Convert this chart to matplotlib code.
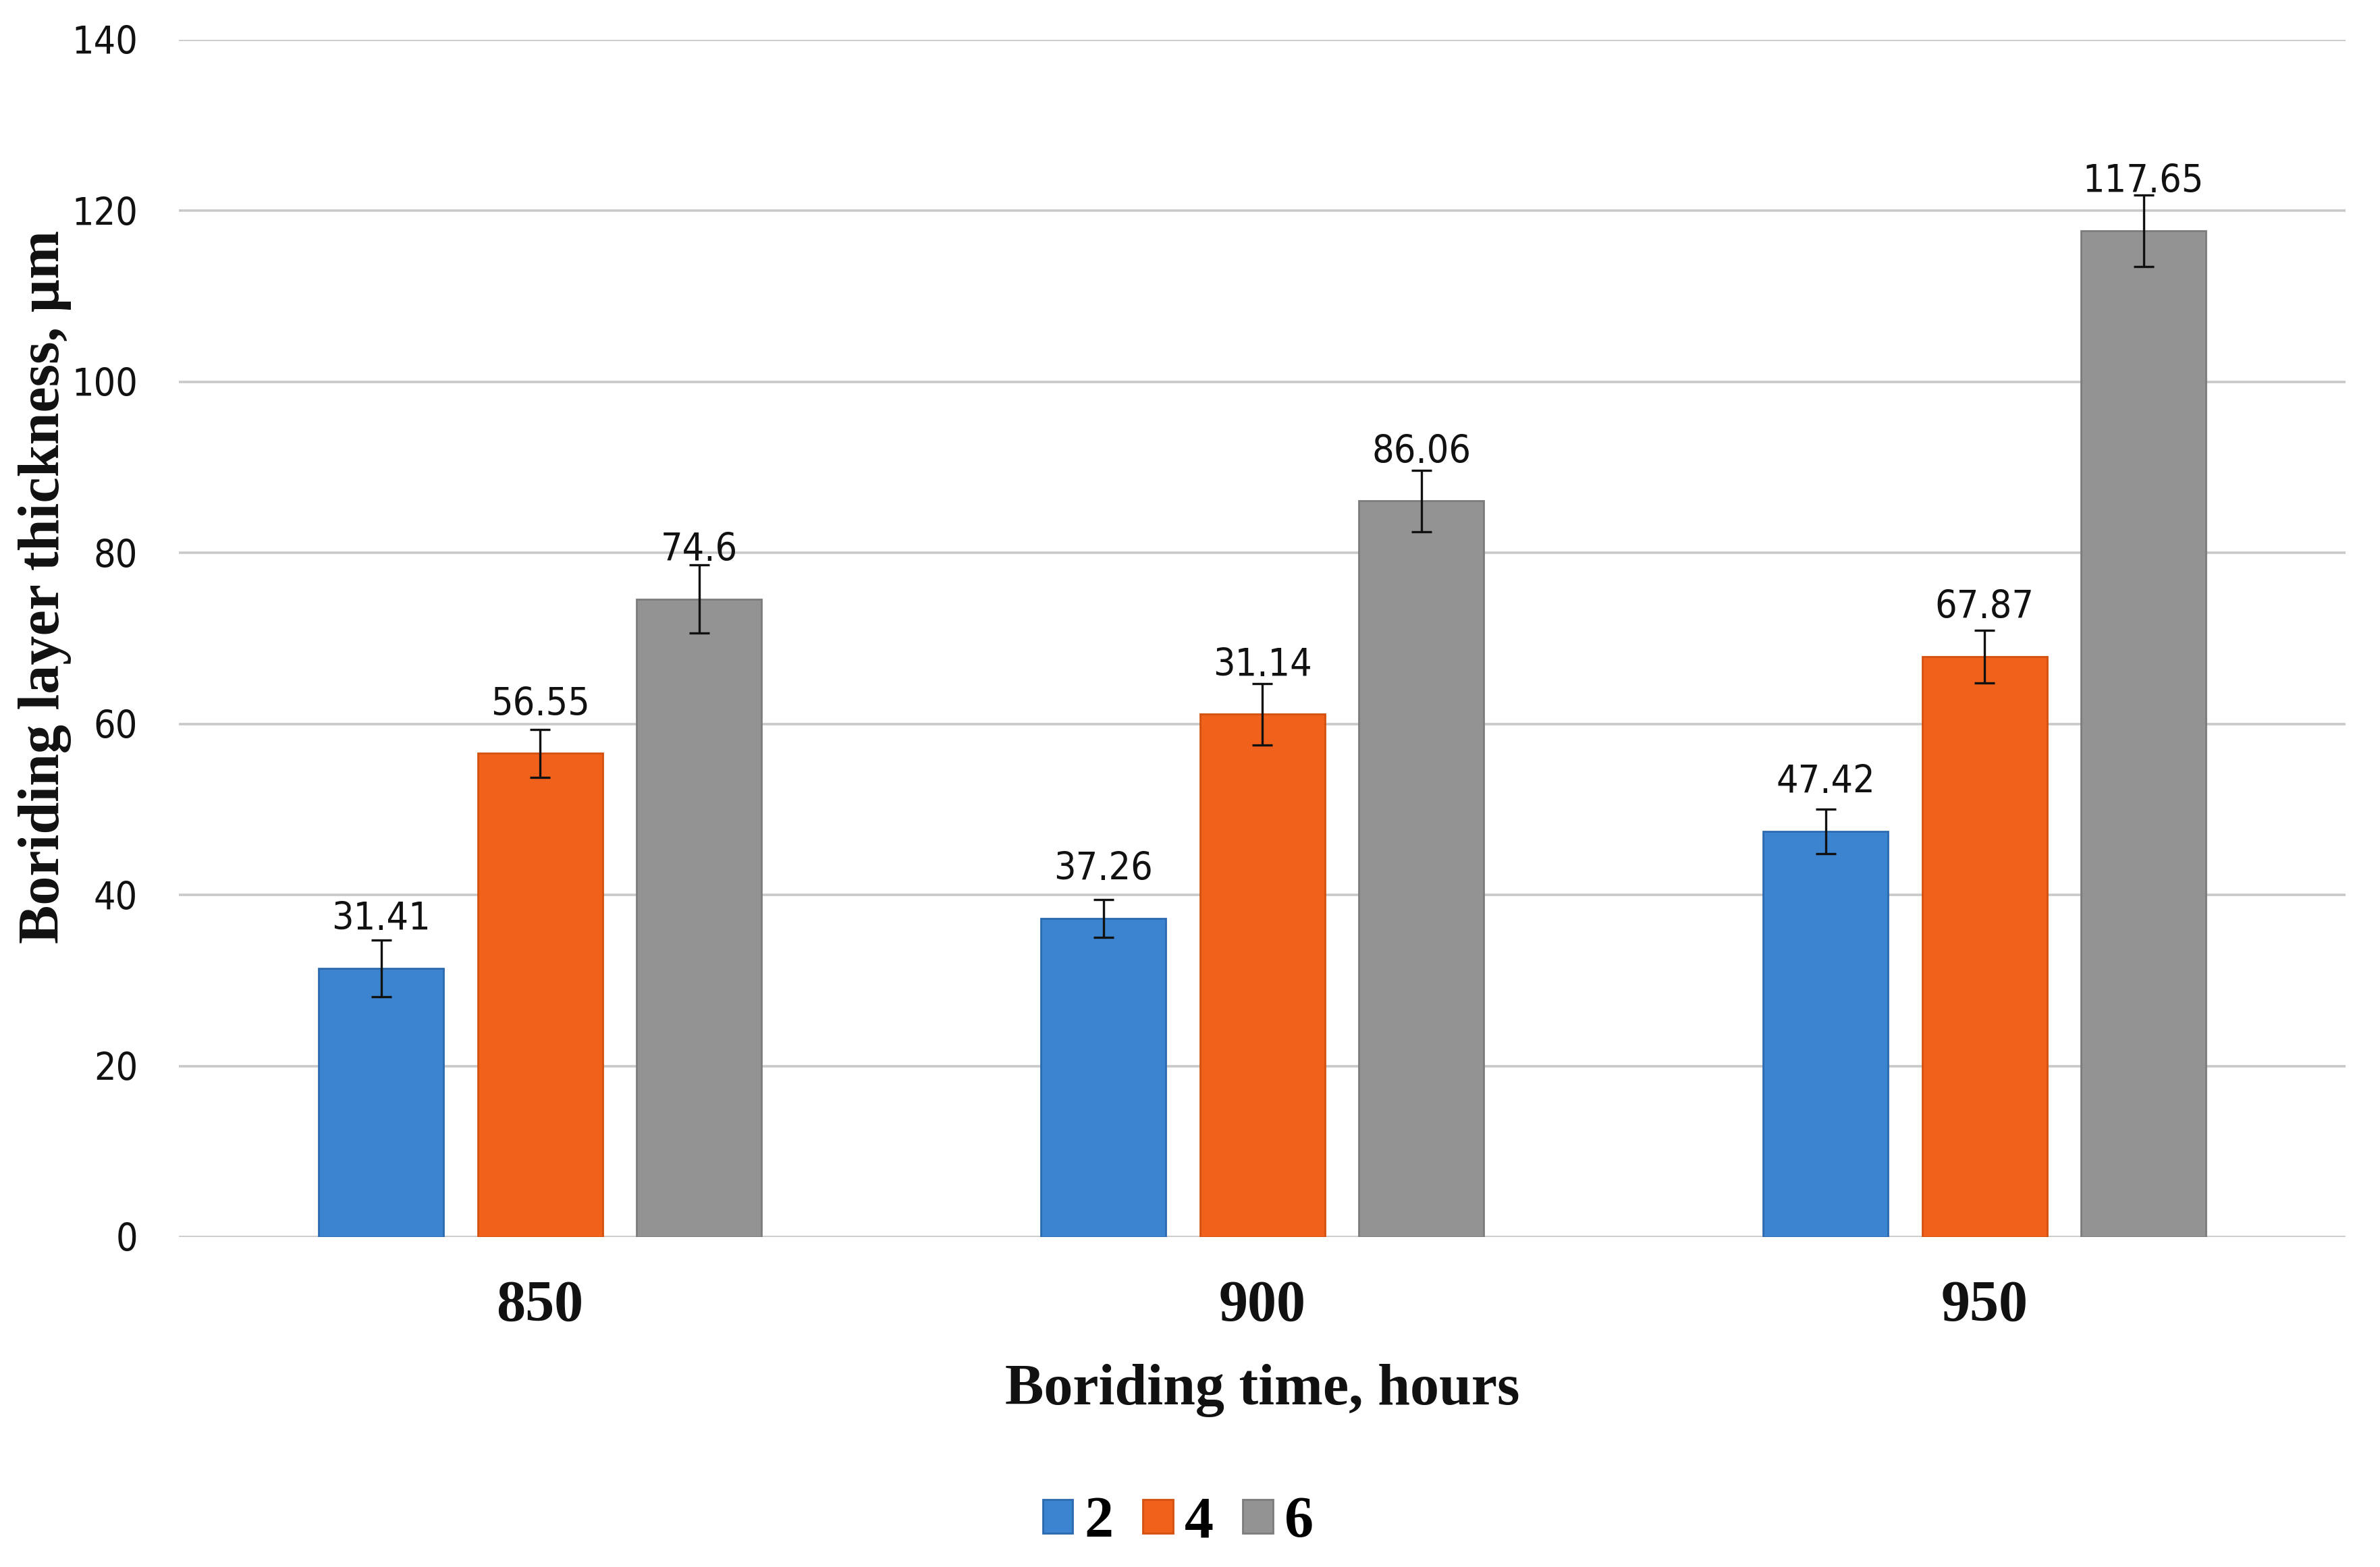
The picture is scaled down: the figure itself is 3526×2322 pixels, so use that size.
import matplotlib
matplotlib.use("Agg")
import matplotlib.pyplot as plt
import numpy as np

categories = ["850", "900", "950"]
series_names = ["2", "4", "6"]
vals_2 = [31.41, 37.26, 47.42]
vals_4 = [56.55, 61.14, 67.87]
vals_6 = [74.6, 86.06, 117.65]
err_2 = [3.3, 2.2, 2.6]
err_4 = [2.8, 3.6, 3.1]
err_6 = [4.0, 3.6, 4.2]
labels_2 = ["31.41", "37.26", "47.42"]
labels_4 = ["56.55", "31.14", "67.87"]
labels_6 = ["74.6", "86.06", "117.65"]
yticks = [0, 20, 40, 60, 80, 100, 120, 140]

colors = ["#3C84CF", "#F0621B", "#939393"]
edges = ["#2C6AB0", "#D4500F", "#7C7C7C"]

serif = ["Liberation Serif", "DejaVu Serif"]
narrow = ["Liberation Sans Narrow", "DejaVu Sans"]

fig = plt.figure(figsize=(35.26, 23.22), dpi=100)
ax = fig.add_axes([0.0752, 0.2106, 0.9104, 0.764])

x = np.arange(len(categories))
offs = [-0.22, 0.0, 0.22]
width = 0.173
allvals = [vals_2, vals_4, vals_6]
allerr = [err_2, err_4, err_6]
alllab = [labels_2, labels_4, labels_6]

handles = []
for i in range(3):
    b = ax.bar(x + offs[i], allvals[i], width, color=colors[i], edgecolor=edges[i],
               linewidth=2, zorder=3, label=series_names[i])
    handles.append(b)
    ax.errorbar(x + offs[i], allvals[i], yerr=allerr[i], fmt="none", ecolor="#111111",
                elinewidth=2.4, capsize=11, capthick=2.4, zorder=4)
    for xi, v, lab in zip(x + offs[i], allvals[i], alllab[i]):
        ax.annotate(lab, (xi, v), xytext=(0, 52), textcoords="offset points",
                    ha="center", va="center", fontsize=41, color="#111111",
                    family=narrow, stretch="condensed", zorder=5)

ax.set_xlim(-0.5, 2.5)
ax.set_ylim(0, 140)
ax.set_yticks(yticks)
ax.set_yticklabels([str(t) for t in yticks], family=narrow, stretch="condensed",
                   fontsize=41, color="#111111")
ax.set_xticks(x)
ax.set_xticklabels(categories, family=serif, fontweight="bold", fontsize=62, color="#111111")
ax.tick_params(axis="y", length=0, pad=44)
ax.tick_params(axis="x", length=0, pad=46)
ax.yaxis.grid(True, color="#C9C9C9", linewidth=2.6, zorder=0)
ax.set_axisbelow(True)
for s in ax.spines.values():
    s.set_visible(False)

ax.set_ylabel("Boriding layer thickness, µm", family=serif, fontweight="bold",
              fontsize=62, color="#111111")
ax.yaxis.set_label_coords(-0.0495, 0.543)
ax.set_xlabel("Boriding time, hours", family=serif, fontweight="bold",
              fontsize=62, color="#111111")
ax.xaxis.set_label_coords(0.5, -0.106)

leg = fig.legend(handles=handles, labels=series_names, loc="center",
                 bbox_to_anchor=(0.495, 0.028), ncol=3, frameon=False,
                 prop={"family": serif, "weight": "bold", "size": 62},
                 handlelength=0.52, handleheight=0.52, handletextpad=0.2,
                 columnspacing=0.5)

fig.savefig("out.png", dpi=100, facecolor="white")
